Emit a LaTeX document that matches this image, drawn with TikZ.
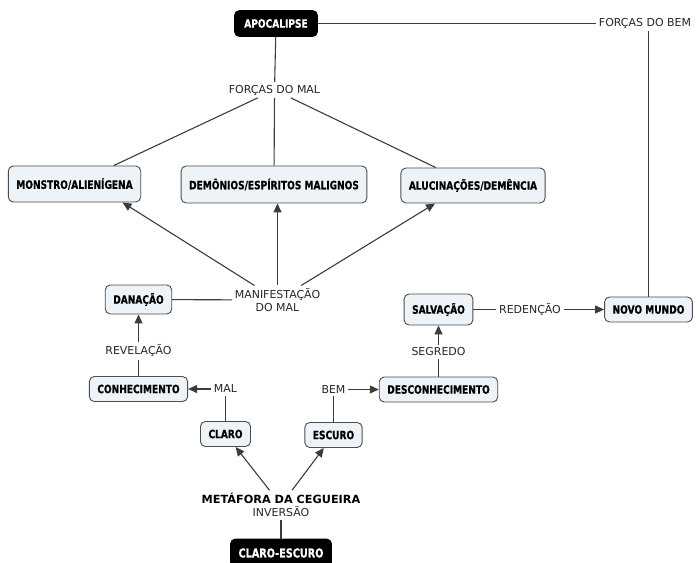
\documentclass[tikz,border=0pt]{standalone}
\usepackage{xcolor}
\usepackage{fontspec}
\setmainfont{DejaVu Sans}
\newfontfamily\boxfont[FakeStretch=0.79, FakeBold=0.6]{DejaVu Sans}
\usepackage{tikz}
\usetikzlibrary{arrows.meta, shapes}
\definecolor{caixa}{HTML}{EEF3F8}
\definecolor{linha}{HTML}{3C3C3C}
\tikzstyle{link} = [line width=1.1bp, draw=linha]
\tikzstyle{arrow} = [line width=1.1bp, draw=linha, -{Triangle[length=9bp,width=8bp]}]
\tikzstyle{concept} = [rectangle, rounded corners=5bp, draw=black!70, line width=0.9bp, fill=caixa, text centered, inner xsep=8bp, font=\boxfont\bfseries\fontsize{11.5}{13}\selectfont]
\tikzstyle{root} = [concept, draw=black, fill=black, text=white]
\tikzstyle{phrase} = [inner sep=2.5bp, text=black!85, font=\fontsize{11}{13.5}\selectfont]

\begin{document}
\begin{tikzpicture}[x=1bp, y=-1bp]
    \useasboundingbox (0,0) rectangle (696,563);

    % Topo
    \node (apoc) [root, minimum width=83bp, minimum height=26bp] at (276,23.5) {APOCALIPSE};
    \node (fbem) [phrase] at (645,23) {FORÇAS DO BEM};
    \node (fmal) [phrase] at (274.5,90) {FORÇAS DO MAL};

    % Formas do mal
    \node (monstro) [concept, minimum width=130bp, minimum height=36bp] at (74.5,184) {MONSTRO/ALIENÍGENA};
    \node (demon) [concept, minimum width=181bp, minimum height=37bp] at (274,184.5) {DEMÔNIOS/ESPÍRITOS MALIGNOS};
    \node (aluc) [concept, minimum width=138bp, minimum height=35bp] at (473,185.5) {ALUCINAÇÕES/DEMÊNCIA};
    \node (manif) [phrase, align=center] at (277.5,300) {MANIFESTAÇÃO\\DO MAL};

    % Lado esquerdo
    \node (danacao) [concept, minimum width=62bp, minimum height=29bp] at (138.5,299.5) {DANAÇÃO};
    \node (revel) [phrase] at (138.5,351) {REVELAÇÃO};
    \node (conhec) [concept, minimum width=91bp, minimum height=25bp] at (138.5,389) {CONHECIMENTO};
    \node (mal) [phrase] at (225.5,389) {MAL};
    \node (claro) [concept, minimum width=46bp, minimum height=25bp] at (225.5,434) {CLARO};

    % Lado direito
    \node (bem) [phrase] at (333.5,389.5) {BEM};
    \node (escuro) [concept, minimum width=54bp, minimum height=25bp] at (333.5,435) {ESCURO};
    \node (descon) [concept, minimum width=113bp, minimum height=25bp] at (438.5,389.5) {DESCONHECIMENTO};
    \node (segredo) [phrase] at (438.5,352) {SEGREDO};
    \node (salv) [concept, minimum width=68bp, minimum height=31bp] at (438.5,309.5) {SALVAÇÃO};
    \node (reden) [phrase] at (530,309.5) {REDENÇÃO};
    \node (novo) [concept, minimum width=83bp, minimum height=25bp] at (648.5,309.5) {NOVO MUNDO};

    % Base
    \node (metaf) [phrase, align=center] at (281,505) {{\color{black}\bfseries\fontsize{11.3}{13.5}\selectfont METÁFORA DA CEGUEIRA}\\INVERSÃO};
    \node (claroesc) [root, minimum width=101bp, minimum height=28bp, font=\boxfont\bfseries\fontsize{12.3}{14}\selectfont] at (281,553) {CLARO-ESCURO};

    % Ligacoes
    \draw [link] (apoc.east) -- (apoc.east -| fbem.west);
    \draw [link] (fbem.south -| novo.north) -- (novo.north);
    \draw [link] (apoc) -- (fmal);
    \draw [link] (fmal) -- (monstro);
    \draw [link] (fmal) -- (demon);
    \draw [link] (fmal) -- (aluc);
    \draw [arrow] (manif) -- ([xshift=48bp]monstro.south);
    \draw [arrow] (manif.north) -- (manif.north |- demon.south);
    \draw [arrow] (manif) -- ([xshift=-38bp]aluc.south);
    \draw [link] (danacao) -- (manif);
    \draw [link] (conhec) -- (revel);
    \draw [arrow] (revel) -- (danacao);
    \draw [arrow] (mal) -- (conhec);
    \draw [link] (claro) -- (mal);
    \draw [link] (escuro) -- (bem);
    \draw [arrow] (bem) -- (descon);
    \draw [link] (descon) -- (segredo);
    \draw [arrow] (segredo) -- (salv);
    \draw [link] (salv) -- (reden);
    \draw [arrow] (reden) -- (novo);
    \draw [arrow] (metaf) -- (claro);
    \draw [arrow] (metaf) -- (escuro);
    \draw [link] (metaf) -- (claroesc);
\end{tikzpicture}
\end{document}
